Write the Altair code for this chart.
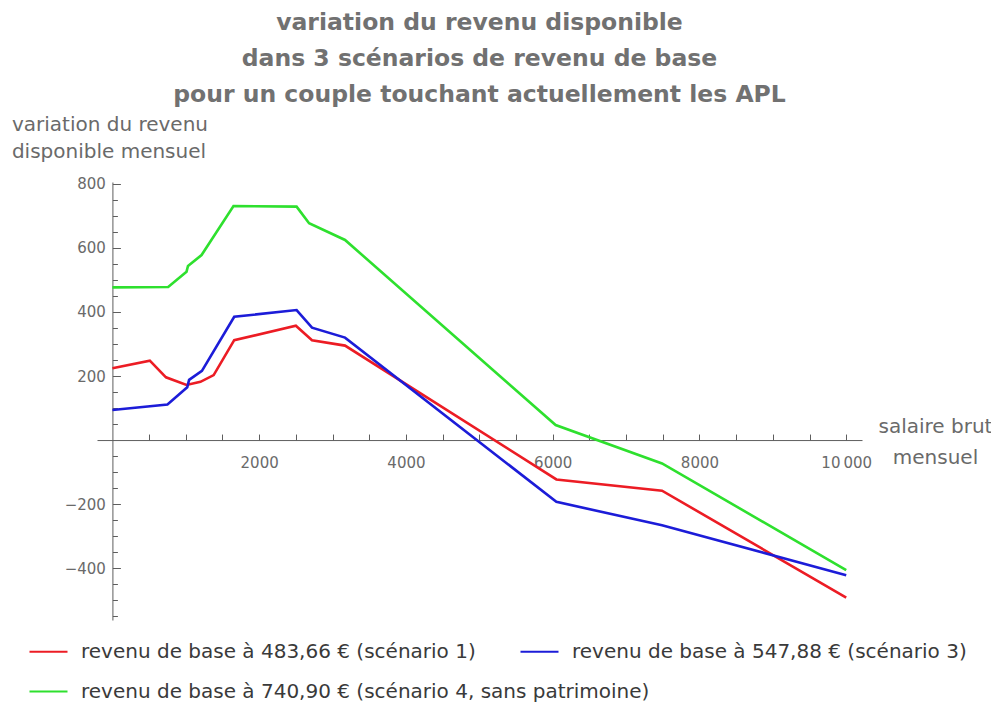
import altair as alt
import pandas as pd

# ---- data ----
salaire_s1 = [0, 510, 730, 1010, 1200, 1380, 1660, 2500, 2720, 3170, 6050, 7490, 10000]
variation_s1 = [224, 248, 196, 172, 182, 203, 312, 357, 312, 295, -123, -158, -492]

salaire_s3 = [0, 750, 1020, 1045, 1220, 1660, 2510, 2720, 3170, 6050, 7490, 10000]
variation_s3 = [94, 111, 165, 188, 216, 385, 406, 351, 320, -193, -266, -422]

salaire_s4 = [0, 760, 1010, 1030, 1215, 1650, 2510, 2680, 3170, 6040, 7490, 10000]
variation_s4 = [477, 478, 526, 544, 578, 731, 729, 677, 625, 47, -73, -406]

series_names = [
    "revenu de base à 483,66 € (scénario 1)",
    "revenu de base à 547,88 € (scénario 3)",
    "revenu de base à 740,90 € (scénario 4, sans patrimoine)",
]
series_colors = ["#ec1c24", "#1c1cd8", "#2ee02e"]

x_ticks = list(range(500, 10001, 500))
y_ticks = [v for v in range(-550, 801, 50) if v != 0]

title_lines = [
    "variation du revenu disponible",
    "dans 3 scénarios de revenu de base",
    "pour un couple touchant actuellement les APL",
]
y_title = ["variation du revenu", "disponible mensuel"]
x_title = ["salaire brut", "mensuel"]

# ---- table ----
rows = []
for name, xs, ys in zip(series_names,
                        [salaire_s1, salaire_s3, salaire_s4],
                        [variation_s1, variation_s3, variation_s4]):
    for a, b in zip(xs, ys):
        rows.append({"salaire": a, "variation": b, "serie": name})
df = pd.DataFrame(rows)

# ---- geometry ----
W, H = 765, 438
x_dom = [-210, 10215]
y_dom = [-562, 806]
zero_y_px = (y_dom[1] - 0) / (y_dom[1] - y_dom[0]) * H
zero_x_px = (0 - x_dom[0]) / (x_dom[1] - x_dom[0]) * W

FONT = "DejaVu Sans"
AXIS_COL = "#5e5e5e"

x_axis = alt.Axis(
    orient="top",
    offset=-zero_y_px,
    values=x_ticks,
    tickSize=6,
    labelPadding=-21,
    labelBaseline="top",
    labelAlign="center",
    labelFlush=False,
    labelOverlap=False,
    labelExpr="datum.value % 2000 === 0 ? (datum.value === 10000 ? '10\u2009000' : '' + datum.value) : ''",
    labelFont=FONT,
    labelFontSize=15,
    labelColor="#6a6a6a",
    domainColor=AXIS_COL,
    tickColor=AXIS_COL,
    grid=False,
    zindex=0,
    title=x_title,
    titleX=838,
    titleY=-8,
    titleAlign="center",
    titleBaseline="alphabetic",
    titleAngle=0,
    titleFont=FONT,
    titleFontSize=20,
    titleFontWeight="normal",
    titleColor="#6a6a6a",
    titleLineHeight=31,
)

y_axis = alt.Axis(
    orient="right",
    offset=-(W - zero_x_px),
    values=y_ticks,
    tickSize={"condition": {"test": "datum.value % 200 === 0", "value": 8}, "value": 5},
    labelPadding=-15,
    labelAlign="right",
    labelBaseline="middle",
    labelFlush=False,
    labelOverlap=False,
    labelExpr="datum.value % 200 === 0 ? replace(datum.label, '-', '\u2212') : ''",
    labelFont=FONT,
    labelFontSize=15,
    labelColor="#6a6a6a",
    domainColor=AXIS_COL,
    tickColor=AXIS_COL,
    grid=False,
    zindex=0,
    title=y_title,
    titleX=-101,
    titleY=-52,
    titleAlign="left",
    titleBaseline="alphabetic",
    titleAngle=0,
    titleFont=FONT,
    titleFontSize=20,
    titleFontWeight="normal",
    titleColor="#6a6a6a",
    titleLineHeight=27,
)


def make_legend(ly):
    return alt.Legend(
        orient="none",
        legendX=-69,
        legendY=ly,
        direction="horizontal",
        title=None,
        symbolType="stroke",
        symbolSize=1444,
        symbolStrokeWidth=2.2,
        labelFont=FONT,
        labelFontSize=20,
        labelColor="#3a3a3a",
        labelLimit=800,
        labelOffset=12,
        columnPadding=40,
        padding=0,
    )


base = alt.Chart(df).mark_line(strokeWidth=2.6, clip=True).encode(
    x=alt.X("salaire:Q", scale=alt.Scale(domain=x_dom, nice=False, zero=False), axis=x_axis),
    y=alt.Y("variation:Q", scale=alt.Scale(domain=y_dom, nice=False, zero=False), axis=y_axis),
)

row1 = base.transform_filter(
    alt.FieldOneOfPredicate(field="serie", oneOf=series_names[:2])
).encode(
    color=alt.Color("serie:N", sort=series_names[:2],
                    scale=alt.Scale(domain=series_names[:2], range=series_colors[:2]),
                    legend=make_legend(449))
)

row2 = base.transform_filter(
    alt.FieldOneOfPredicate(field="serie", oneOf=series_names[2:])
).encode(
    color=alt.Color("serie:N",
                    scale=alt.Scale(domain=series_names[2:], range=series_colors[2:]),
                    legend=make_legend(489))
)

chart = (
    alt.layer(row1, row2)
    .resolve_scale(color="independent")
    .properties(
        width=W,
        height=H,
        title=alt.TitleParams(
            text=title_lines,
            font=FONT,
            fontSize=23.5,
            fontWeight="bold",
            color="#717171",
            lineHeight=36,
            anchor="middle",
            dy=-4,
        ),
        autosize=alt.AutoSizeParams(type="none"),
        padding={"left": 89, "top": 174, "right": 129, "bottom": 85},
        background="white",
    )
    .configure_view(stroke=None)
)

chart.save("out.html", embed_options={"renderer": "svg", "actions": False})
